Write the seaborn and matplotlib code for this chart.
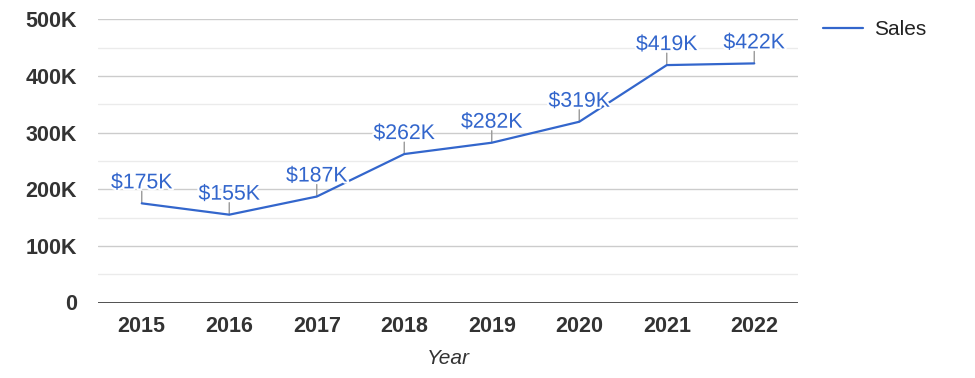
import matplotlib
matplotlib.use("Agg")
import matplotlib.pyplot as plt
import matplotlib.patheffects as pe
import seaborn as sns
import pandas as pd

years = ["2015", "2016", "2017", "2018", "2019", "2020", "2021", "2022"]
sales = [175000, 155000, 187000, 262000, 282000, 319000, 419000, 422000]
labels = ["$175K", "$155K", "$187K", "$262K", "$282K", "$319K", "$419K", "$422K"]
yticks = [0, 100000, 200000, 300000, 400000, 500000]
ytick_labels = ["0", "100K", "200K", "300K", "400K", "500K"]

sns.set_theme(style="white")
plt.rcParams["font.family"] = ["Liberation Sans", "DejaVu Sans"]

df = pd.DataFrame({"Year": years, "Sales": sales})

fig = plt.figure(figsize=(9.75, 3.78), dpi=100)
ax = fig.add_axes([98 / 975, 1 - 302.5 / 378, 700 / 975, 283.3 / 378])

blue = "#3366CC"
sns.lineplot(data=df, x="Year", y="Sales", ax=ax, color=blue, linewidth=1.6,
             label="Sales", sort=False, zorder=3)

ax.set_xlim(-0.5, len(years) - 0.5)
ax.set_ylim(0, 500000)
ax.set_yticks(yticks)
ax.set_yticklabels(ytick_labels)
for v in range(50000, 500000, 100000):
    ax.axhline(v, color="#ebebeb", lw=1, zorder=0)
for v in yticks[1:]:
    ax.axhline(v, color="#cccccc", lw=1, zorder=0)
ax.axhline(0, color="#333333", lw=1.2, zorder=4)

for s in ax.spines.values():
    s.set_visible(False)
ax.tick_params(axis="both", length=0)
for t in ax.get_xticklabels() + ax.get_yticklabels():
    t.set_fontweight("bold")
    t.set_fontsize(15.5)
    t.set_color("#333333")
ax.tick_params(axis="y", pad=15)
ax.tick_params(axis="x", pad=10)

ax.set_xlabel("Year", fontsize=15, fontstyle="italic", color="#333333", labelpad=8)
ax.set_ylabel("")

for i, (v, lab) in enumerate(zip(sales, labels)):
    ax.annotate("", xy=(i, v), xytext=(0, 12), textcoords="offset pixels",
                arrowprops=dict(arrowstyle="-", color="#999999", lw=1,
                                shrinkA=0, shrinkB=0), zorder=2)
    ax.annotate(lab, xy=(i, v), xytext=(0, 15), textcoords="offset pixels",
                ha="center", va="baseline", fontsize=15.3, color=blue, zorder=5,
                path_effects=[pe.withStroke(linewidth=3, foreground="white")])

leg = ax.legend(loc="upper left", bbox_to_anchor=(1.0245, 1.025), frameon=False,
                fontsize=15, handlelength=1.9, borderaxespad=0, handletextpad=0.55)
for t in leg.get_texts():
    t.set_color("#222222")

fig.savefig("out.png", dpi=100)
